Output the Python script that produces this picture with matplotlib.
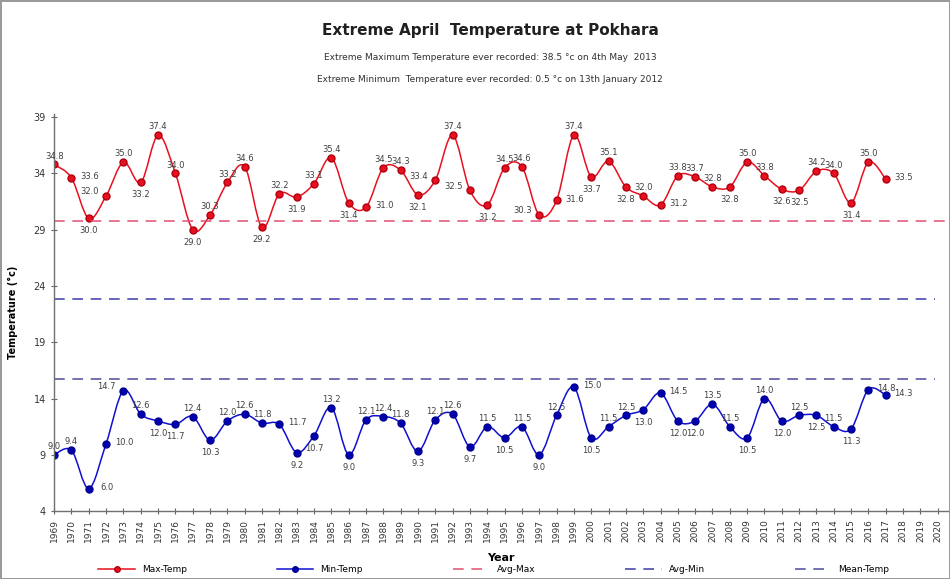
import numpy as np
import matplotlib
matplotlib.use("Agg")
import matplotlib.pyplot as plt
from matplotlib.path import Path
from matplotlib.patches import PathPatch

# dati
years = list(range(1969, 2018))
max_temp = [34.8, 33.6, 30.0, 32.0, 35.0, 33.2, 37.4, 34.0, 29.0, 30.3,
            33.2, 34.6, 29.2, 32.2, 31.9, 33.1, 35.4, 31.4, 31.0, 34.5,
            34.3, 32.1, 33.4, 37.4, 32.5, 31.2, 34.5, 34.6, 30.3, 31.6,
            37.4, 33.7, 35.1, 32.8, 32.0, 31.2, 33.8, 33.7, 32.8, 32.8,
            35.0, 33.8, 32.6, 32.5, 34.2, 34.0, 31.4, 35.0, 33.5]
min_temp = [9.0, 9.4, 6.0, 10.0, 14.7, 12.6, 12.0, 11.7, 12.4, 10.3,
            12.0, 12.6, 11.8, 11.7, 9.2, 10.7, 13.2, 9.0, 12.1, 12.4,
            11.8, 9.3, 12.1, 12.6, 9.7, 11.5, 10.5, 11.5, 9.0, 12.5,
            15.0, 10.5, 11.5, 12.5, 13.0, 14.5, 12.0, 12.0, 13.5, 11.5,
            10.5, 14.0, 12.0, 12.5, 12.5, 11.5, 11.3, 14.8, 14.3]
avg_max = 29.8
avg_min = 22.8
mean_temp = 15.7
tick_years = list(range(1969, 2021))
y_ticks = [4, 9, 14, 19, 24, 29, 34, 39]

# posizione etichette: a=sopra, b=sotto, l=sinistra, r=destra
max_pos = "arblabaaba" + "aababaabra" + "ablalbaalr" + "ababaraaab" + "aabbaabar"
min_pos = "aarrlabbab" + "aaarbbabaa" + "abaabababa" + "rbaabrbbaa" + "babababrr"
offs = {"a": (0, 6), "b": (0, -9), "l": (-12, 3), "r": (13, 1)}


def smooth_path(x, y):
    """Curva smussata stile Excel (Catmull-Rom -> Bezier)"""
    pts = np.column_stack([x, y]).astype(float)
    verts = [pts[0]]
    codes = [Path.MOVETO]
    n = len(pts)
    for i in range(n - 1):
        p0 = pts[max(i - 1, 0)]
        p1 = pts[i]
        p2 = pts[i + 1]
        p3 = pts[min(i + 2, n - 1)]
        c1 = p1 + (p2 - p0) / 6
        c2 = p2 - (p3 - p1) / 6
        verts += [c1, c2, p2]
        codes += [Path.CURVE4] * 3
    return Path(verts, codes)


fig = plt.figure(figsize=(9.5, 5.79), dpi=100, edgecolor="#9a9a9a", linewidth=2)
ax = fig.add_axes([0.057, 0.1174, 0.941, 0.686])

red = "#e8101e"
blue = "#1010d0"

ax.add_patch(PathPatch(smooth_path(years, max_temp), fill=False, edgecolor=red, lw=1.1))
ax.add_patch(PathPatch(smooth_path(years, min_temp), fill=False, edgecolor=blue, lw=1.1))
ax.plot(years, max_temp, ls="none", marker="o", ms=5, color=red, mec="#b00010")
ax.plot(years, min_temp, ls="none", marker="o", ms=5, color="#0000b0", mec="#000090")

# handle legenda con linea
h1, = ax.plot([], [], color=red, lw=1.1, marker="o", ms=4, mec="#b00010")
h2, = ax.plot([], [], color=blue, lw=1.1, marker="o", ms=4, mfc="#0000b0", mec="#000090")

l3 = ax.axhline(avg_max, color="#e05070", lw=1.1, dashes=(7, 5))
l4 = ax.axhline(avg_min, color="#3a3aa8", lw=1.1, dashes=(7, 5), xmax=0.985)
l5 = ax.axhline(mean_temp, color="#4a4a9c", lw=1.1, dashes=(7, 5), xmax=0.985)

for x, v, p in zip(years, max_temp, max_pos):
    ax.annotate(f"{v:.1f}", (x, v), xytext=offs[p], textcoords="offset points",
                ha="center", va="center", fontsize=6, color="#404040")
for x, v, p in zip(years, min_temp, min_pos):
    ax.annotate(f"{v:.1f}", (x, v), xytext=offs[p], textcoords="offset points",
                ha="center", va="center", fontsize=6, color="#404040")

ax.set_xlim(1969, 2020.6)
ax.set_ylim(4, 39.3)
ax.set_xticks(tick_years)
ax.set_xticklabels([str(t) for t in tick_years], rotation=90, fontsize=6.5, color="#333333")
ax.set_yticks(y_ticks)
ax.set_yticklabels([str(t) for t in y_ticks], fontsize=7, color="#444444")
ax.tick_params(direction="inout", length=5, width=0.8, colors="#666666", labelcolor="#333333")
for s in ["top", "right"]:
    ax.spines[s].set_visible(False)
for s in ["left", "bottom"]:
    ax.spines[s].set_color("#707070")
    ax.spines[s].set_linewidth(1)

ax.set_xlabel("Year", fontsize=8, fontweight="bold", labelpad=1)
ax.xaxis.set_label_coords(0.5, -0.105)
ax.set_ylabel("Temperature (°c)", fontsize=7, fontweight="bold")
ax.yaxis.set_label_coords(-0.04, 0.5)

fig.text(0.516, 0.948, "Extreme April  Temperature at Pokhara", ha="center", va="center",
         fontsize=11, fontweight="bold", color="#202020")
fig.text(0.516, 0.900, "Extreme Maximum Temperature ever recorded: 38.5 °c on 4th May  2013",
         ha="center", va="center", fontsize=6.5, color="#303030")
fig.text(0.516, 0.862, "Extreme Minimum  Temperature ever recorded: 0.5 °c on 13th January 2012",
         ha="center", va="center", fontsize=6.5, color="#303030")

fig.legend([h1, h2, l3, l4, l5], ["Max-Temp", "Min-Temp", "Avg-Max", "Avg-Min", "Mean-Temp"],
           loc="center", bbox_to_anchor=(0.52, 0.016), ncol=5, frameon=False, fontsize=6.5,
           columnspacing=10, handlelength=4, borderpad=0.1)

fig.savefig("out.png", dpi=100)
